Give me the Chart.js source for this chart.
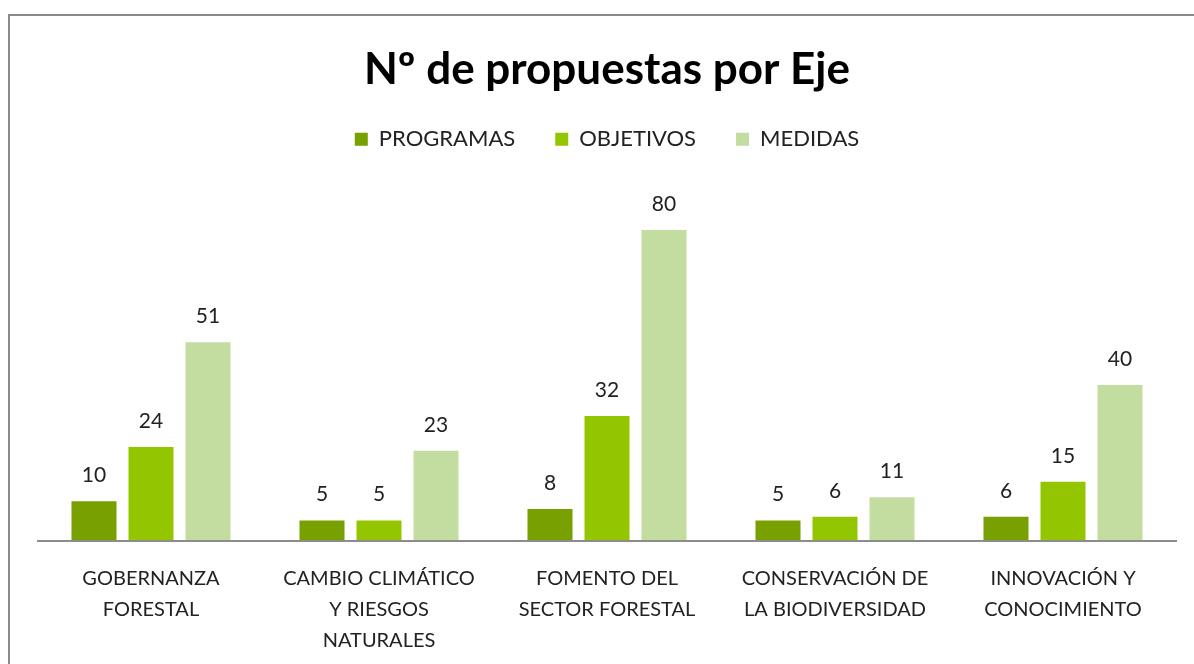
<!DOCTYPE html>
<html>
<head>
<meta charset="utf-8">
<script src="https://cdn.jsdelivr.net/npm/chart.js@4"></script>
<style>
  html, body { margin: 0; padding: 0; background: #fff; overflow: hidden; }
  #frame { position: absolute; left: 8px; top: 14px; width: 1400px; height: 900px; border: 2px solid #8a8a8a; }
  #wrap { position: absolute; left: 0; top: 0; width: 1194px; height: 664px; }
</style>
</head>
<body>
<div id="frame"></div>
<div id="wrap"><canvas id="barChart" width="1194" height="664"></canvas></div>
<script>
const titleText = "Nº de propuestas por Eje";
const ejes = [
  ["GOBERNANZA", "FORESTAL"],
  ["CAMBIO CLIMÁTICO", "Y RIESGOS", "NATURALES"],
  ["FOMENTO DEL", "SECTOR FORESTAL"],
  ["CONSERVACIÓN DE", "LA BIODIVERSIDAD"],
  ["INNOVACIÓN Y", "CONOCIMIENTO"]
];
const programas = [10, 5, 8, 5, 6];
const objetivos = [24, 5, 32, 6, 15];
const medidas = [51, 23, 80, 11, 40];

// numbers above each bar + the category axis line
const valueLabels = {
  id: "valueLabels",
  afterDatasetsDraw(chart) {
    const ctx = chart.ctx;
    const area = chart.chartArea;
    ctx.save();
    ctx.strokeStyle = "#8c8c8c";
    ctx.lineWidth = 2;
    ctx.beginPath();
    ctx.moveTo(area.left, area.bottom + 1);
    ctx.lineTo(area.right, area.bottom + 1);
    ctx.stroke();

    ctx.font = "21px Lato";
    ctx.fillStyle = "#222";
    ctx.textAlign = "center";
    ctx.textBaseline = "middle";
    chart.data.datasets.forEach((ds, i) => {
      chart.getDatasetMeta(i).data.forEach((bar, j) => {
        ctx.fillText(ds.data[j], bar.x, bar.y - 26);
      });
    });
    ctx.restore();
  }
};

new Chart(document.getElementById("barChart"), {
  type: "bar",
  data: {
    labels: ejes,
    datasets: [
      { label: "PROGRAMAS", data: programas, backgroundColor: "#77a000" },
      { label: "OBJETIVOS", data: objetivos, backgroundColor: "#94c600" },
      { label: "MEDIDAS", data: medidas, backgroundColor: "#c3dda0" }
    ]
  },
  options: {
    responsive: false,
    animation: false,
    devicePixelRatio: 1,
    categoryPercentage: 0.75,
    barPercentage: 0.79,
    layout: { padding: { left: 37, right: 17, top: 52, bottom: -7 } },
    plugins: {
      title: {
        display: true,
        text: titleText,
        color: "#000",
        font: { family: "Lato", size: 44, weight: "bold", lineHeight: 0.8 },
        padding: { top: 0, bottom: 1 }
      },
      legend: {
        display: true,
        labels: {
          boxWidth: 13,
          boxHeight: 13,
          color: "#222",
          font: { family: "Lato", size: 22 },
          padding: 40
        }
      },
      tooltip: { enabled: false }
    },
    scales: {
      x: {
        grid: { display: false },
        border: { display: false },
        ticks: {
          color: "#222",
          font: { family: "Lato", size: 20, lineHeight: 1.55 },
          maxRotation: 0,
          autoSkip: false,
          padding: 15
        }
      },
      y: {
        display: false,
        min: 0,
        max: 98
      }
    }
  },
  plugins: [valueLabels]
});
</script>
</body>
</html>
